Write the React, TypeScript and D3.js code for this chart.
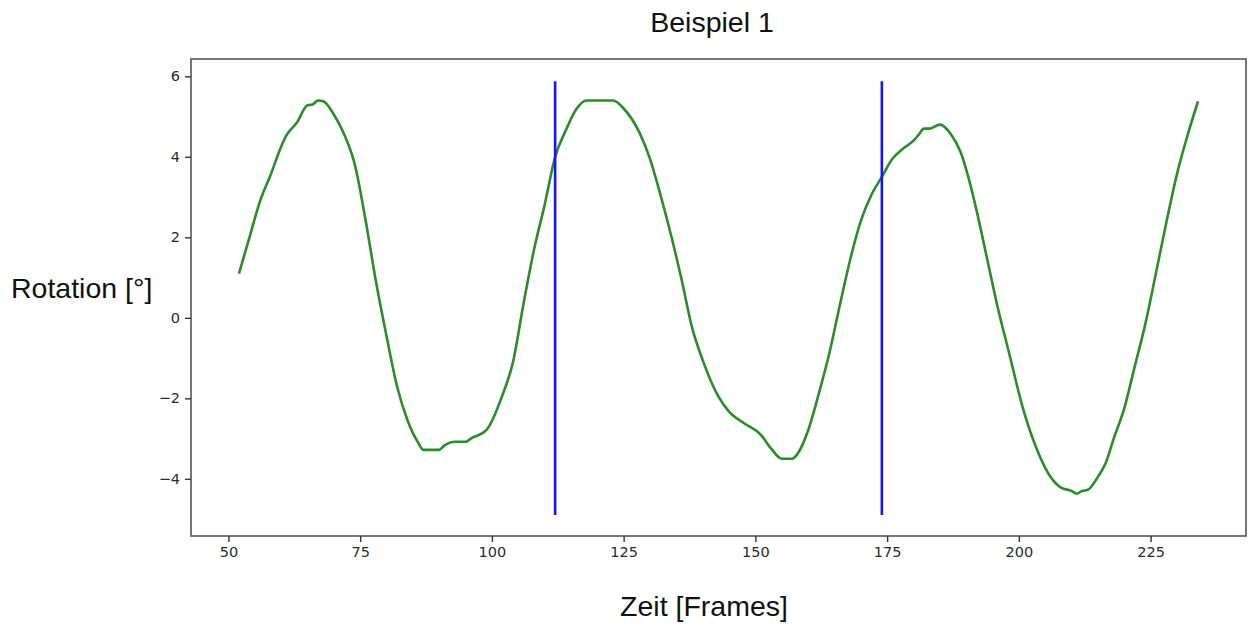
import React, { useRef, useEffect } from 'react'
import { select, scaleLinear, line, curveMonotoneX, axisBottom, axisLeft } from 'd3'

// frames and rotation
const frames = [52, 54, 56, 58, 60, 61, 63, 65, 66, 67, 68, 70, 72, 74, 76, 78, 80, 82, 84, 86, 87, 90, 91, 93, 95, 96, 99,
  102, 104, 106, 108, 110, 112, 114, 116, 118, 123, 125, 128, 130, 132, 134, 136, 138, 140, 142, 143, 145, 148, 151, 153,
  155, 157, 158, 160, 162, 164, 166, 168, 170, 172, 174, 176, 178, 180, 181, 182, 183, 185, 187, 189, 190.5, 192, 194,
  196, 198, 201, 204, 206, 208, 210, 211, 212, 213, 215, 216.5, 218, 220, 222, 224, 226, 228, 230, 232, 234]
const rotation = [1.1, 2.0, 2.9, 3.55, 4.25, 4.53, 4.85, 5.28, 5.3, 5.4, 5.38, 5.05, 4.55, 3.8, 2.45, 0.9, -0.45, -1.7, -2.55,
  -3.1, -3.28, -3.28, -3.17, -3.08, -3.08, -3.0, -2.78,
  -1.92, -1.1, 0.35, 1.7, 2.8, 4.0, 4.65, 5.18, 5.4, 5.4, 5.2, 4.6, 3.95, 3.05, 2.05, 0.95, -0.25, -1.05, -1.7, -1.96,
  -2.33, -2.63, -2.9, -3.25,
  -3.5, -3.5, -3.38, -2.8, -1.9, -0.9, 0.3, 1.45, 2.4, 3.05, 3.5, 3.95, 4.2, 4.4, 4.55, 4.7, 4.7, 4.8, 4.58, 4.1, 3.45,
  2.65, 1.45,
  0.25, -0.8, -2.35, -3.45, -3.95, -4.22, -4.3, -4.37, -4.3, -4.28, -3.95, -3.6, -3.0, -2.25, -1.2, -0.15, 1.1, 2.38,
  3.57, 4.53, 5.38]

const markerFrames = [112, 174] // blue vertical lines
const markerRange = [-4.9, 5.88]

const xTicks = [50, 75, 100, 125, 150, 175, 200, 225]
const yTicks = [-4, -2, 0, 2, 4, 6]

const W = 1248
const H = 626
const plot = { left: 191, right: 1246, top: 59, bottom: 536 }

function App() {
  const svgRef = useRef()

  useEffect(() => {
    document.body.style.margin = '0'
    const svg = select(svgRef.current)

    const xScale = scaleLinear().domain([42.9, 243.1]).range([plot.left, plot.right])
    const yScale = scaleLinear().domain([-5.42, 6.43]).range([plot.bottom, plot.top])

    const data = frames.map((f, i) => [f, rotation[i]])

    const myLine = line()
      .x(d => xScale(d[0]))
      .y(d => yScale(d[1]))
      .curve(curveMonotoneX)

    svg.select('.curve')
      .selectAll('path')
      .data([data])
      .join('path')
      .attr('d', myLine)
      .attr('fill', 'none')
      .attr('stroke', '#2b8c2b')
      .attr('stroke-width', 2.6)
      .attr('stroke-linejoin', 'round')

    svg.select('.markers')
      .selectAll('line')
      .data(markerFrames)
      .join('line')
      .attr('x1', d => xScale(d))
      .attr('x2', d => xScale(d))
      .attr('y1', yScale(markerRange[0]))
      .attr('y2', yScale(markerRange[1]))
      .attr('stroke', '#1414ff')
      .attr('stroke-width', 2.6)

    const xAxis = axisBottom(xScale).tickValues(xTicks).tickSize(6).tickPadding(5)
    svg.select('.x-axis')
      .attr('transform', `translate(0,${plot.bottom})`)
      .call(xAxis)
    const yAxis = axisLeft(yScale).tickValues(yTicks).tickSize(6).tickPadding(5)
      .tickFormat(d => (d < 0 ? '\u2212' + Math.abs(d) : String(d)))
    svg.select('.y-axis')
      .attr('transform', `translate(${plot.left},0)`)
      .call(yAxis)

    svg.selectAll('.x-axis .domain, .y-axis .domain').remove()
    svg.selectAll('.tick line').attr('stroke', '#333').attr('stroke-width', 1.4)
    svg.selectAll('.tick text')
      .attr('fill', '#2a2a2a')
      .style('font-family', '"DejaVu Sans", sans-serif')
      .style('font-size', '14.5px')
  }, [])

  const textFont = '"Liberation Sans", Arial, sans-serif'

  return (
    <svg ref={svgRef} width={W} height={H} style={{ display: 'block', background: '#fff' }}>
      <g className="curve" />
      <g className="markers" />
      <rect x={plot.left} y={plot.top} width={plot.right - plot.left} height={plot.bottom - plot.top}
        fill="none" stroke="#555" strokeWidth={1.6} />
      <g className="x-axis" />
      <g className="y-axis" />
      <text x={712} y={32} textAnchor="middle" fontFamily={textFont} fontSize={28.5} fill="#111">Beispiel 1</text>
      <text x={704} y={616} textAnchor="middle" fontFamily={textFont} fontSize={28.5} fill="#111">Zeit [Frames]</text>
      <text x={11} y={298} fontFamily={textFont} fontSize={28.5} fill="#111">Rotation [°]</text>
    </svg>
  )
}

export default App
